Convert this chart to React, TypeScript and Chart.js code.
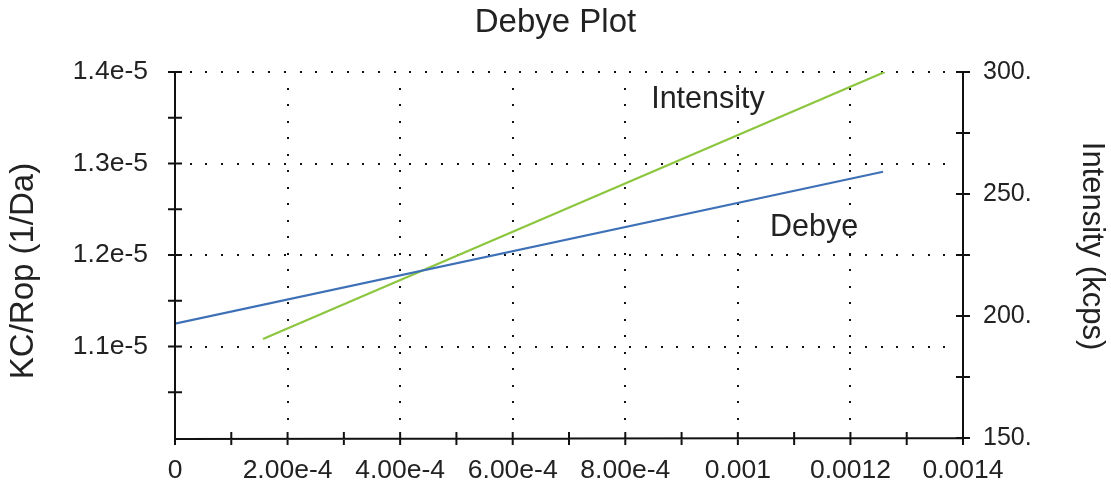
import React, { useEffect, useRef } from 'react';
import { Chart, registerables } from 'chart.js';

Chart.register(...registerables);

// ---- data ----
const debyeX = [0, 0.001258];
const debyeY = [1.125e-5, 1.291e-5];
const intensityX = [0.0001563, 0.001261];
const intensityY = [190.6, 300];

const xTickValues = [0, 0.0002, 0.0004, 0.0006, 0.0008, 0.001, 0.0012, 0.0014];
const xTickLabels = ['0', '2.00e-4', '4.00e-4', '6.00e-4', '8.00e-4', '0.001', '0.0012', '0.0014'];
const leftTickValues = [1.0e-5, 1.1e-5, 1.2e-5, 1.3e-5, 1.4e-5];
const leftTickLabels = ['', '1.1e-5', '1.2e-5', '1.3e-5', '1.4e-5'];
const rightTickValues = [150, 200, 250, 300];
const rightTickLabels = ['150.', '200.', '250.', '300.'];

const leftAxisTitle = 'KC/Rop (1/Da)';
const rightAxisTitle = 'Intensity (kcps)';

const annotationTexts = ['Intensity', 'Debye'];
const annotationX = [0.000846, 0.001057];
const annotationY = [1.3694e-5, 1.2295e-5];

const FONT = "'Liberation Sans', Arial, Helvetica, sans-serif";
const TEXT = '#222';

const decorPlugin = {
  id: 'decor',
  beforeDatasetsDraw(chart: any) {
    const { ctx, chartArea: a, scales } = chart;
    ctx.save();
    ctx.fillStyle = '#111';
    const dot = (x: number, y: number) => ctx.fillRect(Math.round(x) - 1, Math.round(y) - 1, 2, 2);
    for (const t of scales.y.ticks) {
      const py = scales.y.getPixelForValue(t.value);
      if (Math.abs(py - a.bottom) < 1) continue;
      for (let x = a.left + 15.7; x < a.right - 4; x += 15.7) dot(x, py);
    }
    for (const t of scales.x.ticks) {
      const px = scales.x.getPixelForValue(t.value);
      if (Math.abs(px - a.left) < 1 || Math.abs(px - a.right) < 1) continue;
      for (let y = a.top + 16.5; y < a.bottom - 4; y += 16.5) dot(px, y);
    }
    ctx.restore();
  },
  afterDatasetsDraw(chart: any) {
    const { ctx, chartArea: a, scales } = chart;
    ctx.save();
    ctx.strokeStyle = '#111';
    ctx.lineWidth = 2;
    ctx.beginPath();
    ctx.moveTo(a.left, a.top - 1);
    ctx.lineTo(a.left, a.bottom + 1);
    ctx.lineTo(a.right, a.bottom);
    ctx.moveTo(a.right, a.top - 1);
    ctx.lineTo(a.right, a.bottom + 1);
    const withMinors = (vals: number[]) => {
      const out: number[] = [];
      vals.forEach((v, i) => {
        out.push(v);
        if (i < vals.length - 1) out.push((v + vals[i + 1]) / 2);
      });
      return out;
    };
    const yv = scales.y.ticks.map((t: any) => t.value);
    withMinors(yv).forEach((v) => {
      const py = scales.y.getPixelForValue(v);
      if (Math.abs(py - a.bottom) < 1) return;
      ctx.moveTo(a.left - 7, py);
      ctx.lineTo(a.left + 7, py);
    });
    const rv = scales.y1.ticks.map((t: any) => t.value);
    withMinors(rv).forEach((v) => {
      const py = scales.y1.getPixelForValue(v);
      ctx.moveTo(a.right - 7, py);
      ctx.lineTo(a.right + 7, py);
    });
    const xv = scales.x.ticks.map((t: any) => t.value);
    withMinors(xv).forEach((v) => {
      const px = scales.x.getPixelForValue(v);
      ctx.moveTo(px, a.bottom - 6);
      ctx.lineTo(px, a.bottom + 7);
    });
    ctx.stroke();

    ctx.fillStyle = TEXT;
    ctx.font = `30.5px ${FONT}`;
    ctx.textAlign = 'left';
    ctx.textBaseline = 'middle';
    annotationTexts.forEach((txt, i) => {
      ctx.fillText(txt, scales.x.getPixelForValue(annotationX[i]), scales.y.getPixelForValue(annotationY[i]));
    });

    // axis titles
    ctx.textAlign = 'center';
    ctx.font = `33px ${FONT}`;
    ctx.save();
    ctx.translate(24, 271);
    ctx.rotate(-Math.PI / 2);
    ctx.fillText(leftAxisTitle, 0, 0);
    ctx.restore();
    ctx.font = `31px ${FONT}`;
    ctx.save();
    ctx.translate(1092, 246);
    ctx.rotate(Math.PI / 2);
    ctx.fillText(rightAxisTitle, 0, 0);
    ctx.restore();
    ctx.restore();
  },
};

export default function App() {
  const ref = useRef<HTMLCanvasElement | null>(null);

  useEffect(() => {
    if (!ref.current) return;
    const chart = new Chart(ref.current, {
      type: 'scatter',
      data: {
        datasets: [
          {
            label: 'Debye',
            data: debyeX.map((x, i) => ({ x, y: debyeY[i] })),
            showLine: true,
            borderColor: '#3d70b6',
            borderWidth: 2.2,
            pointRadius: 0,
            yAxisID: 'y',
          },
          {
            label: 'Intensity',
            data: intensityX.map((x, i) => ({ x, y: intensityY[i] })),
            showLine: true,
            borderColor: '#8cc63f',
            borderWidth: 2.2,
            pointRadius: 0,
            yAxisID: 'y1',
          },
        ],
      },
      options: {
        responsive: false,
        animation: false,
        events: [],
        layout: { padding: 0 },
        plugins: {
          legend: { display: false },
          tooltip: { enabled: false },
          title: {
            display: true,
            text: 'Debye Plot',
            color: TEXT,
            font: { family: FONT, size: 33, weight: 'normal' },
            padding: { top: 3, bottom: 29.4 },
          },
        },
        scales: {
          x: {
            type: 'linear',
            position: 'bottom',
            min: 0,
            max: 0.0014,
            grid: { display: false, drawTicks: false },
            border: { display: false },
            afterBuildTicks: (s: any) => {
              s.ticks = xTickValues.map((value) => ({ value }));
            },
            afterFit: (s: any) => {
              s.height = 59;
            },
            ticks: {
              autoSkip: false,
              maxRotation: 0,
              padding: 17,
              color: TEXT,
              font: { family: FONT, size: 26.5 },
              callback: (_v: any, i: number) => xTickLabels[i],
            },
          },
          y: {
            type: 'linear',
            position: 'left',
            min: 1.0e-5,
            max: 1.4e-5,
            grid: { display: false, drawTicks: false },
            border: { display: false },
            afterBuildTicks: (s: any) => {
              s.ticks = leftTickValues.map((value) => ({ value }));
            },
            afterFit: (s: any) => {
              s.width = 175;
            },
            ticks: {
              autoSkip: false,
              padding: 27,
              color: TEXT,
              font: { family: FONT, size: 26.5 },
              callback: (_v: any, i: number) => leftTickLabels[i],
            },
          },
          y1: {
            type: 'linear',
            position: 'right',
            min: 150,
            max: 300,
            grid: { display: false, drawTicks: false },
            border: { display: false },
            afterBuildTicks: (s: any) => {
              s.ticks = rightTickValues.map((value) => ({ value }));
            },
            afterFit: (s: any) => {
              s.width = 148;
            },
            ticks: {
              autoSkip: false,
              padding: 20,
              color: TEXT,
              font: { family: FONT, size: 25 },
              callback: (_v: any, i: number) => rightTickLabels[i],
            },
          },
        },
      },
      plugins: [decorPlugin],
    } as any);
    return () => chart.destroy();
  }, []);

  return (
    <div style={{ position: 'fixed', left: 0, top: 0, width: 1111, height: 497, background: '#fff' }}>
      <canvas ref={ref} width={1111} height={497} style={{ display: 'block' }} />
    </div>
  );
}
